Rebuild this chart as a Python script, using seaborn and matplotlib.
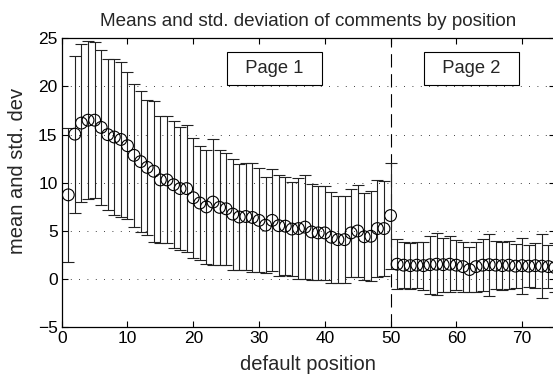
import numpy as np
import pandas as pd
import matplotlib
matplotlib.use("Agg")
import matplotlib.pyplot as plt
import seaborn as sns

# ---- data ----
positions = list(range(1, 76))
means = [8.75, 15.05, 16.2, 16.5, 16.5, 15.75, 15.0, 14.75, 14.5, 13.85,
         12.85, 12.2, 11.6, 11.2, 10.3, 10.3, 9.8, 9.4, 9.4, 8.45,
         7.9, 7.5, 8.0, 7.45, 7.3, 6.75, 6.45, 6.5, 6.4, 6.1,
         5.6, 6.1, 5.55, 5.5, 5.2, 5.25, 5.4, 4.9, 4.8, 4.8,
         4.35, 4.1, 4.1, 4.8, 5.0, 4.4, 4.45, 5.25, 5.25, 6.6,
         1.55, 1.45, 1.4, 1.45, 1.4, 1.5, 1.55, 1.5, 1.55, 1.45,
         1.3, 1.0, 1.3, 1.45, 1.5, 1.45, 1.4, 1.45, 1.35, 1.4,
         1.35, 1.4, 1.35, 1.3, 1.2]
stds = [6.95, 8.15, 8.2, 8.2, 8.1, 8.05, 7.8, 8.05, 8.0, 7.65,
        7.45, 7.3, 7.0, 7.3, 6.6, 6.6, 6.6, 6.4, 6.6, 6.25,
        5.9, 5.9, 6.5, 5.95, 5.8, 5.75, 5.55, 5.6, 5.65, 5.4,
        5.0, 5.3, 5.25, 5.1, 4.9, 5.25, 5.4, 5.0, 4.9, 4.9,
        4.7, 4.5, 4.5, 4.6, 4.8, 4.5, 4.65, 5.05, 4.95, 5.5,
        2.6, 2.4, 2.4, 2.4, 2.5, 3.0, 3.2, 2.8, 2.9, 2.6,
        2.6, 2.3, 2.6, 2.7, 3.2, 2.5, 2.5, 2.5, 2.3, 2.9,
        2.2, 2.3, 3.3, 2.2, 2.5]
page_labels = ["Page 1", "Page 2"]
page_label_x = [32.4, 62.3]
page_label_y = [21.9, 21.9]
page_break = 50
x_ticks = [0, 10, 20, 30, 40, 50, 60, 70]
y_ticks = [-5, 0, 5, 10, 15, 20, 25]
y_tick_labels = ["\u22125", "0", "5", "10", "15", "20", "25"]

df = pd.DataFrame({"position": positions, "mean": means, "std": stds})

sns.set_style("ticks")
plt.rcParams["font.family"] = ["Liberation Sans", "DejaVu Sans"]

fig = plt.figure(figsize=(5.53, 3.77), dpi=100)
ax = fig.add_axes([0.1116, 0.1318, 0.8920, 0.7666])

ax.errorbar(df["position"], df["mean"], yerr=df["std"], fmt="none",
            ecolor="#222222", elinewidth=0.8, capsize=4.5, capthick=0.8, zorder=2)
sns.scatterplot(data=df, x="position", y="mean", ax=ax, marker="o", s=72,
                facecolor="none", edgecolor="black", linewidth=0.8, zorder=3,
                legend=False)

ax.axvline(page_break, color="black", linestyle=(0, (12, 6)), linewidth=0.8, zorder=1)

for lab, lx, ly in zip(page_labels, page_label_x, page_label_y):
    ax.text(lx, ly, "  " + lab + "  ", ha="center", va="center", fontsize=13.2,
            bbox=dict(boxstyle="square,pad=0.44", facecolor="white",
                      edgecolor="black", linewidth=0.8))

ax.set_xlim(0, 75)
ax.set_ylim(-5, 25)
ax.set_xticks(x_ticks)
ax.set_yticks(y_ticks)
ax.set_yticklabels(y_tick_labels)
ax.yaxis.grid(True, linestyle=(0, (1, 9)), color="black", linewidth=0.6)
ax.tick_params(direction="in", length=4, width=0.8, labelsize=12.5,
               top=True, right=True, colors="black", pad=3)
for sp in ax.spines.values():
    sp.set_visible(True)
    sp.set_linewidth(0.9)
    sp.set_color("black")

ax.set_xlabel("default position", fontsize=14.5, labelpad=6)
ax.set_ylabel("mean and std. dev", fontsize=14.5)
ax.yaxis.set_label_coords(-0.07, 0.541)
ax.set_title("Means and std. deviation of comments by position", fontsize=13.6, pad=9)

fig.savefig("out.png", dpi=100)
